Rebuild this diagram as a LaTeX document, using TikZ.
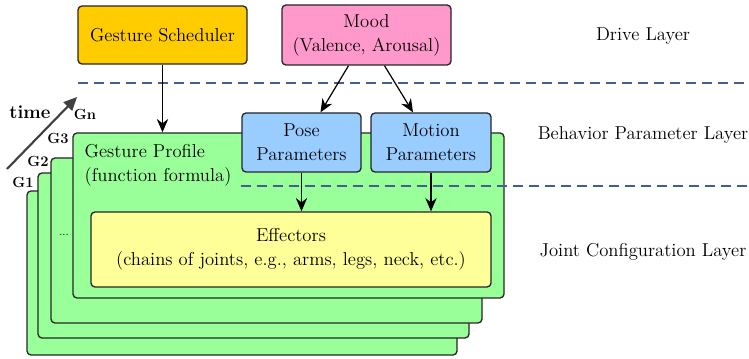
\documentclass[tikz,border=0pt]{standalone}
\usetikzlibrary{arrows.meta,calc}

\definecolor{profilegreen}{HTML}{99FF99}
\definecolor{effyellow}{HTML}{FFFF99}
\definecolor{parblue}{HTML}{99CCFF}
\definecolor{moodpink}{HTML}{FF99CC}
\definecolor{schedorange}{HTML}{FFCC00}
\definecolor{layerblue}{RGB}{68,94,145}
\definecolor{edge}{HTML}{262626}
\definecolor{timegray}{HTML}{404040}

\tikzset{
  box/.style={draw=edge, line width=1pt, rounded corners=3pt, inner sep=0pt, align=center},
  size/.style 2 args={minimum width=#1*0.75pt, minimum height=#2*0.75pt},
  profile/.style={box, fill=profilegreen},
  flow/.style={draw=black, line width=0.9pt, -{Stealth[length=10pt,width=8.5pt]}},
  layerline/.style={draw=layerblue, line width=1pt, dash pattern=on 7.5pt off 4.5pt},
  layerlabel/.style={anchor=center},
  stacklabel/.style={font=\fontsize{11}{13}\selectfont\bfseries, anchor=center},
}

\begin{document}
\begin{tikzpicture}[x=0.75pt, y=-0.75pt, font=\fontsize{14}{18}\selectfont]
\useasboundingbox (0,0) rectangle (749,359);

% stacked gesture profiles, back to front
\node[profile, size={430}{164}] (g1) at (242,273) {};
\node[profile, size={431}{165}] (g2) at (253.5,255.5) {};
\node[profile, size={431}{165}] (g3) at (266.5,240.5) {};
\node[profile, size={431}{165}] (gn) at (288.5,215.5) {};

\node[anchor=west, align=left] (proftext) at (80,165) {Gesture Profile\\(function formula)};
\node[font=\fontsize{8}{9}\selectfont] (dots) at (64,235) {...};

% profile labels and time axis
\node[stacklabel] (lg1) at (23,182) {G1};
\node[stacklabel] (lg2) at (38,161) {G2};
\node[stacklabel] (lg3) at (58,138) {G3};
\node[stacklabel] (lgn) at (85,114) {Gn};
\coordinate (t0) at (7,169);
\coordinate (t1) at (77,97);
\draw[timegray, line width=1.6pt, -{Triangle[length=10pt,width=9pt]}] (t0) -- (t1);
\node[font=\fontsize{14}{18}\selectfont\bfseries] (time) at (30,112) {time};

% layer separators
\coordinate (d1a) at (78,83);
\coordinate (d1b) at (749,83);
\coordinate (d2a) at (241,186);
\coordinate (d2b) at (749,186);
\draw[layerline] (d1a) -- (d1b);
\draw[layerline] (d2a) -- (d2b);

% drive layer
\node[box, fill=schedorange, size={169}{58}] (sched) at (162.5,35) {Gesture Scheduler};
\node[box, fill=moodpink, size={169}{60}] (mood) at (366.5,35) {Mood\\(Valence, Arousal)};

% behavior parameter layer
\node[box, fill=parblue, size={119}{59}] (pose) at (301.5,142.5) {Pose\\Parameters};
\node[box, fill=parblue, size={120}{59}] (motion) at (431,142.5) {Motion\\Parameters};

% joint configuration layer
\node[box, fill=effyellow, size={400}{75}] (eff) at (291,249.5) {Effectors\\(chains of joints, e.g., arms, legs, neck, etc.)};

% connectors
\draw[flow] (sched.south) -- (sched.south |- gn.north);
\draw[flow] ($(mood.south)+(-18,0)$) -- ($(pose.north)+(19,0)$);
\draw[flow] ($(mood.south)+(18,0)$) -- ($(motion.north)+(-18,0)$);
\draw[flow] (pose.south) -- (pose.south |- eff.north);
\draw[flow] (motion.south) -- (motion.south |- eff.north);

% layer names
\node[layerlabel] (drive) at (643,36) {Drive Layer};
\node[layerlabel] (behav) at (643,135) {Behavior Parameter Layer};
\node[layerlabel] (joint) at (643,252) {Joint Configuration Layer};
\end{tikzpicture}
\end{document}
